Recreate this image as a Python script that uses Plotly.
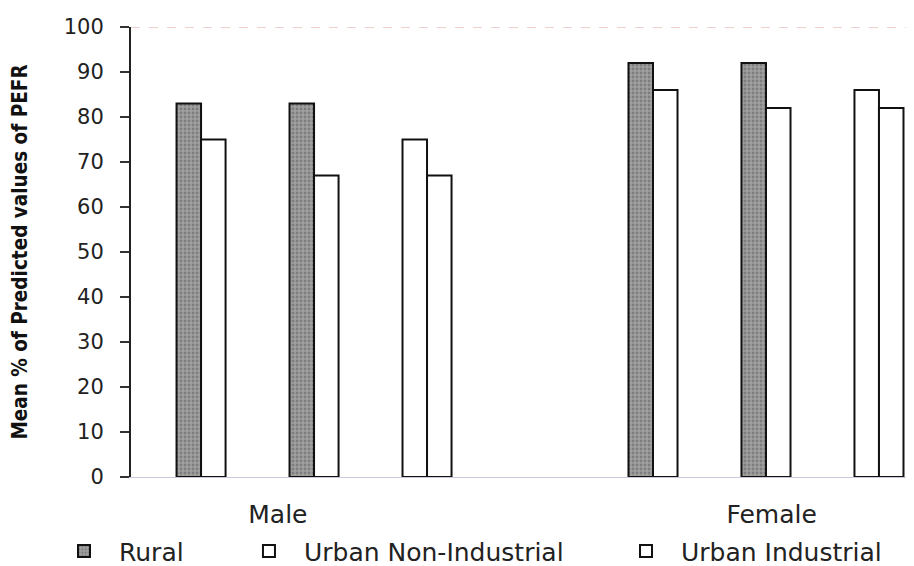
import plotly.graph_objects as go

groups = ["Male", "Female"]
series = ["Rural", "Urban Non-Industrial", "Urban Industrial"]
rural = [83, 92]
urban_non_industrial = [75, 86]
urban_industrial = [67, 82]
y_ticks = [0, 10, 20, 30, 40, 50, 60, 70, 80, 90, 100]

values = {"Rural": rural, "Urban Non-Industrial": urban_non_industrial,
          "Urban Industrial": urban_industrial}
# pairwise comparisons shown within each group (left series, right series)
pairs = [("Rural", "Urban Non-Industrial"), ("Rural", "Urban Industrial"),
         ("Urban Non-Industrial", "Urban Industrial")]

BW = 0.217
slots_per_group = len(pairs) + 1
FONT = "DejaVu Sans, Verdana, sans-serif"

styles = {
    "Rural": dict(color="#8e8e8e", line=dict(color="#111111", width=2),
                  pattern=dict(shape=".", fgcolor="#5a5a5a", bgcolor="#a0a0a0", size=4, solidity=0.4)),
    "Urban Non-Industrial": dict(color="white", line=dict(color="#111111", width=2)),
    "Urban Industrial": dict(color="white", line=dict(color="#111111", width=2)),
}

fig = go.Figure()
legend_names = {"Rural": "legend", "Urban Non-Industrial": "legend2", "Urban Industrial": "legend3"}
for s in series:
    xs, ys, offs = [], [], []
    for gi, g in enumerate(groups):
        for pi, (a, b) in enumerate(pairs):
            slot = gi * slots_per_group + pi
            if s == a:
                xs.append(slot); ys.append(values[s][gi]); offs.append(-BW)
            elif s == b:
                xs.append(slot); ys.append(values[s][gi]); offs.append(0)
    fig.add_trace(go.Bar(x=xs, y=ys, offset=offs, width=BW, name=s,
                         marker=styles[s], legend=legend_names[s]))

fig.add_shape(type="line", xref="paper", yref="y", x0=0, x1=1, y0=100, y1=100,
              line=dict(color="#ecc0c0", width=1.5, dash="dash"))

legend_common = dict(orientation="h", yanchor="middle", y=-0.165, xanchor="left",
                     itemwidth=60,
                     font=dict(family=FONT, size=25, color="#222"),
                     bgcolor="rgba(0,0,0,0)")

fig.update_layout(
    width=914, height=566,
    margin=dict(l=123, r=8, t=19, b=97, autoexpand=False),
    plot_bgcolor="white", paper_bgcolor="white",
    barmode="overlay",
    showlegend=True,
    legend=dict(x=-0.1047, **legend_common),
    legend2=dict(x=0.1315, **legend_common),
    legend3=dict(x=0.613, **legend_common),
    xaxis=dict(range=[-0.62, 6.31], tickmode="array",
               tickvals=[0.68, 5.05], ticktext=groups, automargin=False,
               showgrid=False, zeroline=False, showline=True, linecolor="#cfc6dc", linewidth=1,
               ticks="", ticklabelstandoff=15,
               tickfont=dict(family=FONT, size=25, color="#222")),
    yaxis=dict(range=[0, 100], tickvals=y_ticks, showgrid=False, zeroline=False,
               automargin=False,
               showline=True, linecolor="#222", linewidth=2, ticks="outside", ticklen=9,
               tickwidth=2, tickcolor="#333", ticklabelstandoff=12,
               tickfont=dict(family=FONT, size=21, color="#222"),
               title=dict(text="<b>Mean % of Predicted values of PEFR</b>", standoff=31,
                          font=dict(family="DejaVu Sans Condensed, Liberation Sans Narrow, Liberation Sans", size=20.5, color="#111"))),
)

fig.write_html("out.html")
